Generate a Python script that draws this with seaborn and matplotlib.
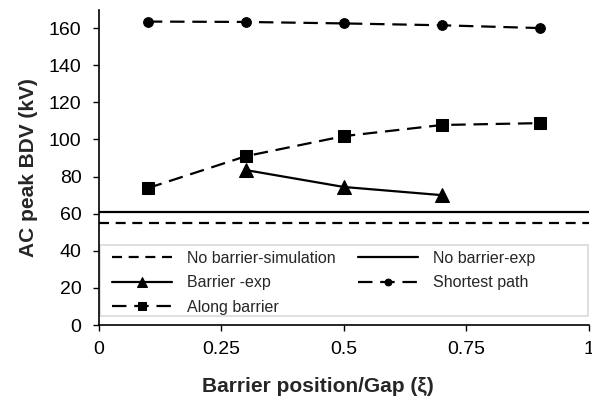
import matplotlib
matplotlib.use('Agg')
import matplotlib.pyplot as plt
from matplotlib.patches import Rectangle
import seaborn as sns
import pandas as pd

# valorile
xi_paths = [0.1, 0.3, 0.5, 0.7, 0.9]
shortest_path = [163.5, 163.3, 162.5, 161.5, 160.0]
along_barrier = [73.8, 91.0, 101.8, 107.8, 108.8]

xi_exp = [0.3, 0.5, 0.7]
barrier_exp = [83.5, 74.4, 70.0]

no_barrier_sim = 55.0
no_barrier_exp = 61.0

sns.set_style('ticks')
plt.rcParams['font.family'] = ['Liberation Sans', 'DejaVu Sans']

fig = plt.figure(figsize=(5.92, 3.96), dpi=100)
ax = fig.add_axes([0.167, 0.179, 0.828, 0.797])

df_paths = pd.DataFrame({'xi': xi_paths, 'short': shortest_path, 'along': along_barrier})
df_exp = pd.DataFrame({'xi': xi_exp, 'bdv': barrier_exp})

# linii orizontale pentru cazul fara bariera
h_sim = ax.axhline(no_barrier_sim, color='black', lw=1.6, dashes=(4.5, 3))
h_exp = ax.axhline(no_barrier_exp, color='black', lw=1.6)

sns.lineplot(data=df_exp, x='xi', y='bdv', ax=ax, color='black', lw=1.6,
             marker='^', markersize=10, markeredgecolor='black')
sns.lineplot(data=df_paths, x='xi', y='short', ax=ax, color='black', lw=1.6,
             marker='o', markersize=7, markeredgecolor='black')
sns.lineplot(data=df_paths, x='xi', y='along', ax=ax, color='black', lw=1.6,
             marker='s', markersize=9, markeredgecolor='black')

lines = ax.get_lines()
h_bar, h_short, h_along = lines[2], lines[3], lines[4]
h_short.set_dashes((6.5, 3.5))
h_along.set_dashes((6.5, 3.5))

ax.set_xlim(0, 1)
ax.set_ylim(0, 170)
ax.set_xticks([0, 0.25, 0.5, 0.75, 1])
ax.set_xticklabels(['0', '0.25', '0.5', '0.75', '1'])
ax.set_yticks(range(0, 161, 20))
ax.tick_params(labelsize=14, length=4.5, width=1, direction='out', colors='black')
ax.tick_params(axis='y', pad=8)
ax.tick_params(axis='x', pad=7)
for s in ['left', 'bottom']:
    ax.spines[s].set_linewidth(1.2)
    ax.spines[s].set_color('black')
sns.despine(ax=ax)

ax.set_xlabel('Barrier position/Gap (ξ)', fontsize=15, fontweight='bold')
ax.set_ylabel('AC peak BDV (kV)', fontsize=15, fontweight='bold', labelpad=8)
# eticheta x e putin spre stanga in original
ax.xaxis.set_label_coords(0.447, -0.165)

# ordinea pe coloane ca in original
handles = [h_sim, h_bar, h_along, h_exp, h_short]
labels = ['No barrier-simulation', 'Barrier -exp', 'Along barrier',
          'No barrier-exp', 'Shortest path']
leg = ax.legend(handles, labels, ncol=2, loc='upper left',
                bbox_to_anchor=(0.0265, 0.236), frameon=False,
                fontsize=11.5, handlelength=3.75, borderpad=0,
                borderaxespad=0, labelspacing=0.6, handletextpad=0.95,
                columnspacing=1.4, markerscale=0.7)

# chenarul legendei pe toata latimea
ax.add_patch(Rectangle((0.002, 0.0285), 0.996, 0.225, transform=ax.transAxes,
                       fill=True, facecolor='white', edgecolor='#d9d9d9',
                       lw=1.2, zorder=2.5))
leg.set_zorder(3)

fig.savefig('out.png', dpi=100)
